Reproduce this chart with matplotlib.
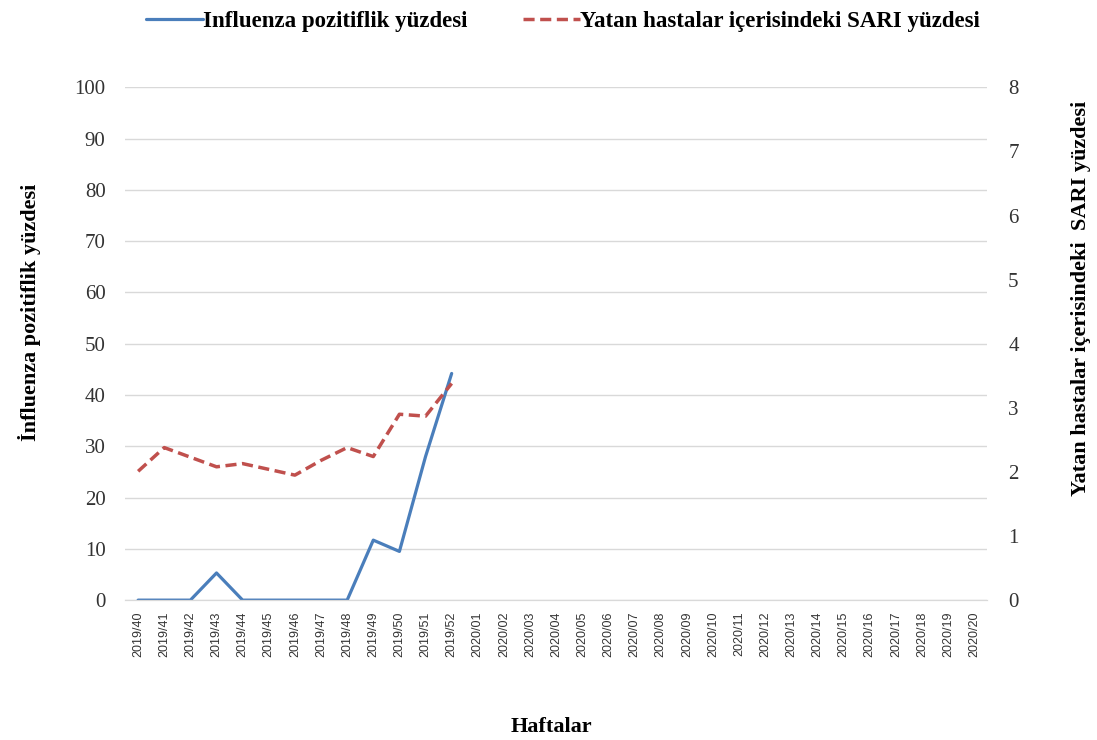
import matplotlib
matplotlib.use("Agg")
import matplotlib.pyplot as plt
import numpy as np

weeks = ["2019/40", "2019/41", "2019/42", "2019/43", "2019/44", "2019/45", "2019/46",
         "2019/47", "2019/48", "2019/49", "2019/50", "2019/51", "2019/52",
         "2020/01", "2020/02", "2020/03", "2020/04", "2020/05", "2020/06", "2020/07",
         "2020/08", "2020/09", "2020/10", "2020/11", "2020/12", "2020/13", "2020/14",
         "2020/15", "2020/16", "2020/17", "2020/18", "2020/19", "2020/20"]
influenza_pos = [0, 0, 0, 5.3, 0, 0, 0, 0, 0, 11.7, 9.5, 28, 44.2]
sari_pct = [2.01, 2.38, 2.23, 2.08, 2.13, 2.04, 1.95, 2.18, 2.38, 2.24, 2.90, 2.87, 3.38]
left_ticks = [0, 10, 20, 30, 40, 50, 60, 70, 80, 90, 100]
right_ticks = [0, 1, 2, 3, 4, 5, 6, 7, 8]

serif = "Liberation Serif"
sans = "Liberation Sans"

fig = plt.figure(figsize=(10.97, 7.40), dpi=100)
ax = fig.add_axes([0.114, 0.189, 0.786, 0.693])
ax2 = ax.twinx()

x = np.arange(len(weeks))
blue = "#4a7ebb"
red = "#c0504d"
l1, = ax.plot(x[:len(influenza_pos)], influenza_pos, color=blue, lw=2.3,
              label="Influenza pozitiflik yüzdesi", solid_capstyle="round")
l2, = ax2.plot(x[:len(sari_pct)], sari_pct, color=red, lw=2.5, ls=(0, (3.2, 1.6)),
               label="Yatan hastalar içerisindeki SARI yüzdesi")

ax.set_xlim(-0.5, len(weeks) - 0.5)
ax.set_ylim(0, 100)
ax2.set_ylim(0, 8)
ax.set_yticks(left_ticks)
ax2.set_yticks(right_ticks)
ax.set_xticks(x)
ax.set_xticklabels(weeks, rotation=90, fontsize=9, family=sans, color="#333333")
ax.tick_params(axis="x", length=0, pad=8)
ax.tick_params(axis="y", length=0, pad=14)
ax2.tick_params(axis="y", length=0, pad=15)
for lab in ax.get_yticklabels() + ax2.get_yticklabels():
    lab.set_fontfamily(serif)
    lab.set_fontsize(15)
    lab.set_color("#333333")

ax.grid(axis="y", color="#d9d9d9", lw=1.0)
ax.set_axisbelow(True)
for a in (ax, ax2):
    for s in ("top", "left", "right"):
        a.spines[s].set_visible(False)
    a.spines["bottom"].set_color("#d9d9d9")

lab_kw = dict(family=serif, fontsize=16, fontweight="bold")
fig.text(30 / 1097, 1 - 312 / 740, "İnfluenza pozitiflik yüzdesi", rotation=90,
         ha="center", va="center", **lab_kw)
fig.text(1081 / 1097, 1 - 298 / 740, "Yatan hastalar içerisindeki  SARI yüzdesi",
         rotation=90, ha="center", va="center", **lab_kw)
fig.text(551 / 1097, 1 - 727 / 740, "Haftalar", ha="center", va="center", **lab_kw)

fig.legend(handles=[l1, l2], loc="center", bbox_to_anchor=(0.513, 1 - 21 / 740),
           ncol=2, frameon=False, prop={"family": serif, "size": 16.5, "weight": "bold"},
           handlelength=2.5, handletextpad=0.0, columnspacing=2.4)

fig.savefig("out.png", dpi=100)
